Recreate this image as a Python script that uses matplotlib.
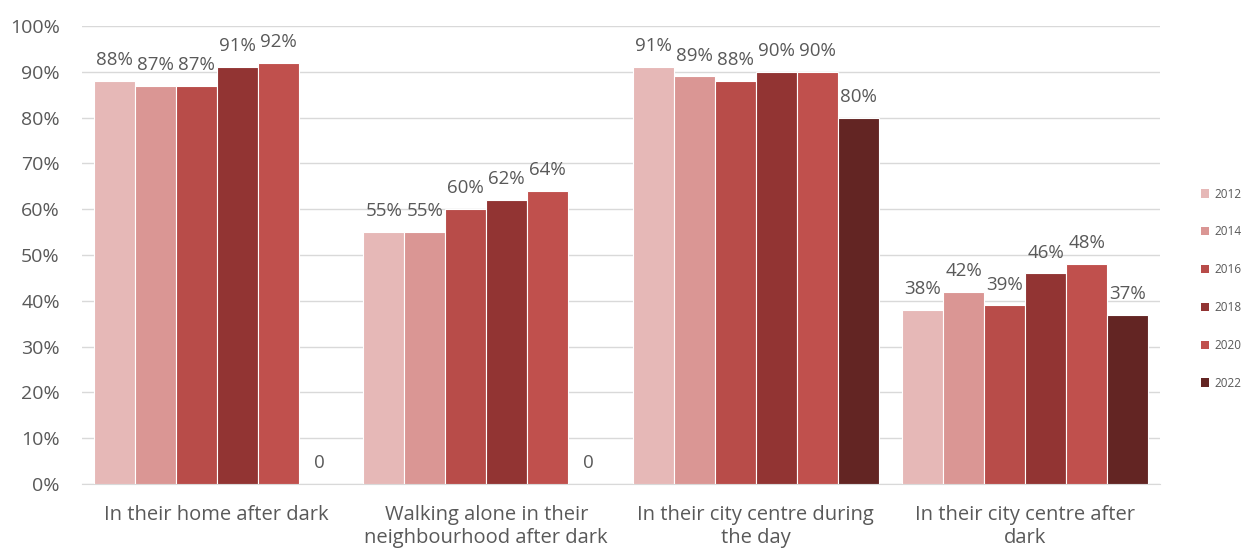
import matplotlib
matplotlib.use("Agg")
import matplotlib.pyplot as plt
import numpy as np
from matplotlib.patches import Patch

plt.rcParams['font.family'] = ['Open Sans', 'DejaVu Sans']

categories = ["In their home after dark",
              "Walking alone in their\nneighbourhood after dark",
              "In their city centre during\nthe day",
              "In their city centre after\ndark"]
years = ["2012", "2014", "2016", "2018", "2020", "2022"]
values = {
    "2012": [88, 55, 91, 38],
    "2014": [87, 55, 89, 42],
    "2016": [87, 60, 88, 39],
    "2018": [91, 62, 90, 46],
    "2020": [92, 64, 90, 48],
    "2022": [0, 0, 80, 37],
}
colors = ["#E6B8B7", "#DA9694", "#B84C49", "#923433", "#C0504D", "#632523"]

fig = plt.figure(figsize=(12.59, 5.52), dpi=100)
ax = fig.add_axes([82/1259, 68/552, (1160-82)/1259, (484-26)/552])

x = np.arange(len(categories))
w = 0.152
txt = "#595959"
for i, yr in enumerate(years):
    off = (i - 2.5) * w
    vals = values[yr]
    ax.bar(x + off, vals, width=w, color=colors[i], edgecolor="white", linewidth=0.8, zorder=3)
    for xi, v in zip(x, vals):
        lab = "0" if v == 0 else f"{v}%"
        ax.annotate(lab, (xi + off, v), xytext=(0, 8.5), textcoords="offset points",
                    ha="center", va="bottom", fontsize=13.5, color=txt)

ax.set_xlim(-0.5, 3.5)
ax.set_ylim(0, 100)
ax.set_yticks(np.arange(0, 101, 10))
ax.set_yticklabels([f"{t}%" for t in range(0, 101, 10)])
ax.set_xticks(x)
ax.set_xticklabels(categories)
ax.yaxis.grid(True, color="#D9D9D9", linewidth=1, zorder=0)
ax.tick_params(axis="both", length=0, colors=txt)
ax.tick_params(axis="x", pad=15, labelsize=14.5)
ax.tick_params(axis="y", pad=16, labelsize=14)
for s in ["top", "right", "left"]:
    ax.spines[s].set_visible(False)
ax.spines["bottom"].set_color("#D9D9D9")

handles = [Patch(facecolor=c, edgecolor="none") for c in colors]
fig.legend(handles, years, loc="upper left", bbox_to_anchor=(1190/1259, 1 - 177/552),
           frameon=False, fontsize=8.5, labelcolor=txt, handlelength=0.7, handleheight=0.7,
           labelspacing=2.1, handletextpad=0.5)

fig.savefig("out.png", dpi=100)
